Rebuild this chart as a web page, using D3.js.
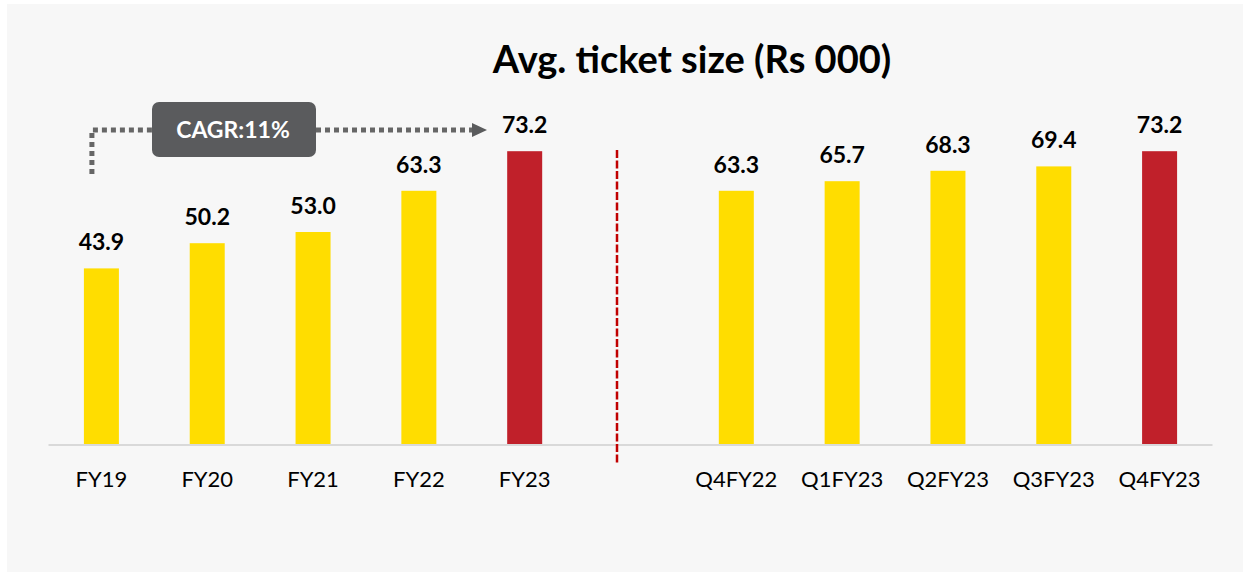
<!DOCTYPE html>
<html><head><meta charset="utf-8">
<script src="https://cdn.jsdelivr.net/npm/d3@7"></script>
<style>html,body{margin:0;padding:0;background:#fff;}svg{display:block;}</style>
</head><body>
<svg id="chart" width="1243" height="572"></svg>
<script>
const categories = ["FY19","FY20","FY21","FY22","FY23","","Q4FY22","Q1FY23","Q2FY23","Q3FY23","Q4FY23"];
const values = [43.9,50.2,53.0,63.3,73.2,null,63.3,65.7,68.3,69.4,73.2];
const highlight = ["FY23","Q4FY23"];
const titleText = "Avg. ticket size (Rs 000)";
const cagrText = "CAGR:11%";

const W = 1243, H = 572;
const svg = d3.select("#chart");
const FONT = "Lato, 'Open Sans', sans-serif";

svg.append("rect").attr("x",7).attr("y",4).attr("width",W-7).attr("height",H-4).attr("fill","#f7f7f7");

const x = d3.scaleBand().domain(categories.map((c,i)=>i)).range([48.5,1212.5]).padding(0);
const y = d3.scaleLinear().domain([0,80]).range([444,124]);
const bw = 35;

// axis line
svg.append("line").attr("x1",48.5).attr("x2",1212.5).attr("y1",y(0)+1).attr("y2",y(0)+1)
  .attr("stroke","#d9d9d9").attr("stroke-width",2);

const data = categories.map((c,i)=>({c,i,v:values[i]})).filter(d=>d.v!=null);

svg.selectAll("rect.bar").data(data).enter().append("rect").attr("class","bar")
  .attr("x",d=>x(d.i)+x.bandwidth()/2-bw/2).attr("width",bw)
  .attr("y",d=>y(d.v)).attr("height",d=>y(0)-y(d.v))
  .attr("fill",d=>highlight.includes(d.c)?"#c0202a":"#ffdd00");

svg.selectAll("text.val").data(data).enter().append("text").attr("class","val")
  .attr("x",d=>x(d.i)+x.bandwidth()/2).attr("y",d=>y(d.v)-18)
  .attr("text-anchor","middle").attr("font-family",FONT).attr("font-weight","bold")
  .attr("font-size",23).attr("fill","#000").text(d=>d.v.toFixed(1));

svg.selectAll("text.cat").data(data).enter().append("text").attr("class","cat")
  .attr("x",d=>x(d.i)+x.bandwidth()/2).attr("y",487)
  .attr("text-anchor","middle").attr("font-family",FONT)
  .attr("font-size",22).attr("fill","#000").text(d=>d.c);

// separator
svg.append("line").attr("x1",617).attr("x2",617).attr("y1",150).attr("y2",463)
  .attr("stroke","#c00000").attr("stroke-width",2.5).attr("stroke-dasharray","8,2.5");

// title
svg.append("text").attr("x",692).attr("y",73).attr("text-anchor","middle")
  .attr("font-family",FONT).attr("font-weight","bold").attr("font-size",38)
  .attr("fill","#000").text(titleText);

// CAGR annotation
const cx0 = x(0)+x.bandwidth()/2 - 9.5;
const ly = 130;
const dot = {stroke:"#666",w:5,dash:"5,4"};
svg.append("path").attr("d",`M${cx0},174 V${ly} H152`).attr("fill","none")
  .attr("stroke",dot.stroke).attr("stroke-width",dot.w).attr("stroke-dasharray",dot.dash);
svg.append("path").attr("d",`M316,${ly} H474`).attr("fill","none")
  .attr("stroke",dot.stroke).attr("stroke-width",dot.w).attr("stroke-dasharray",dot.dash);
svg.append("path").attr("d",`M472,${ly-7} L487,${ly} L472,${ly+7} Z`).attr("fill","#5a5b5d");
svg.append("rect").attr("x",152).attr("y",102).attr("width",164).attr("height",55)
  .attr("rx",7).attr("fill","#5a5b5d");
svg.append("text").attr("x",233).attr("y",138).attr("text-anchor","middle")
  .attr("font-family",FONT).attr("font-weight","bold").attr("font-size",23)
  .attr("fill","#fff").text(cagrText);
</script>
</body></html>
